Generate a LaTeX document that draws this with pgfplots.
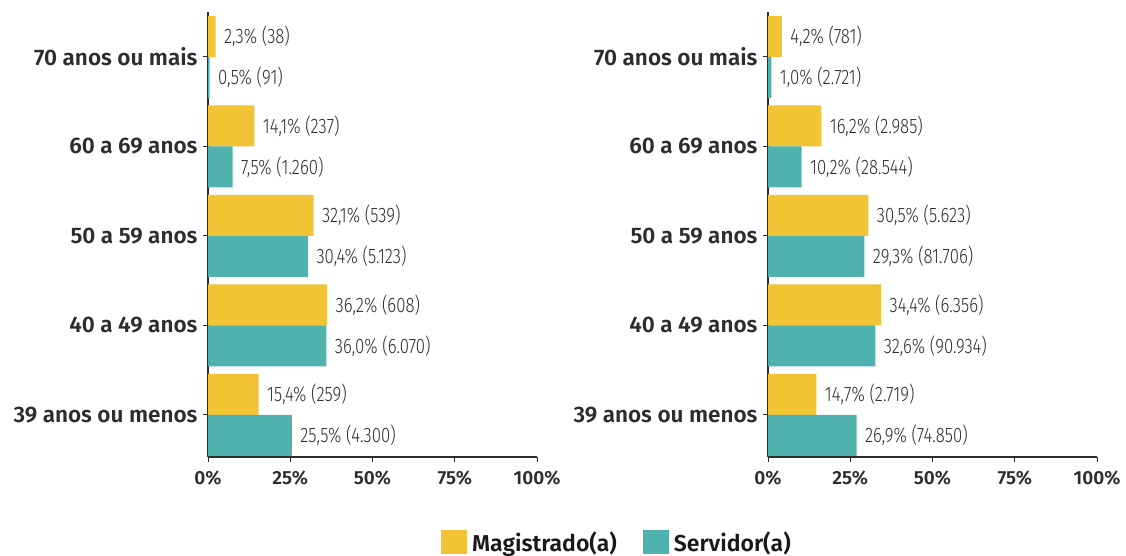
\documentclass[border=0pt]{standalone}
\usepackage{fontspec}
\setmainfont{Fira Sans}
\newfontfamily\medfont{Fira Sans SemiBold}
\newfontfamily\valfont[FakeStretch=0.8]{Fira Sans Light}
\usepackage{pgfplots}
\pgfplotsset{compat=1.18}
\definecolor{mag}{RGB}{242,195,53}
\definecolor{ser}{RGB}{80,178,175}
\definecolor{txt}{RGB}{45,45,45}
\pgfplotsset{panel/.style={
  xbar, scale only axis, width=329pt, height=445pt,
  xmin=0, xmax=100, ymin=-0.47, ymax=4.5,
  axis x line*=bottom, axis y line*=left,
  axis line style={draw=txt, line width=1.2pt, -},
  ytick={0,1,2,3,4},
  yticklabels={39 anos ou menos,40 a 49 anos,50 a 59 anos,60 a 69 anos,70 anos ou mais},
  xtick={0,25,50,75,100},
  xticklabels={0\%,25\%,50\%,75\%,100\%},
  tick align=outside, major tick length=5pt,
  tick style={draw=txt, line width=1pt},
  yticklabel style={font=\medfont\fontsize{22.5}{26}\selectfont, text=txt, xshift=-2pt},
  xticklabel style={font=\medfont\fontsize{19}{22}\selectfont, text=txt, yshift=-5pt},
  bar width=41pt,
  nodes near coords={\pgfplotspointmeta},
  point meta=explicit symbolic,
  nodes near coords style={font=\valfont\fontsize{21}{25}\selectfont, text=txt, anchor=west, xshift=5pt},
  clip=false,
  legend image code/.code={\fill[##1] (0pt,-12pt) rectangle (26pt,12pt);},
}}
\begin{document}
\begin{tikzpicture}
\useasboundingbox (0pt,0pt) rectangle (1126pt,555pt);
\begin{axis}[panel, at={(208pt,98pt)}, anchor=south west,
  legend columns=2,
  legend style={draw=none, fill=none, at={(1.243,-0.191)}, anchor=center,
    font=\medfont\fontsize{23}{27}\selectfont, text=black!90,
    /tikz/every odd column/.append style={column sep=3pt},
    /tikz/every even column/.append style={column sep=24pt}}]
\addplot[fill=mag, draw=none, bar shift=20.5pt] coordinates {
 (2.3,4) [2,3\% (38)]
 (14.1,3) [14,1\% (237)]
 (32.1,2) [32,1\% (539)]
 (36.2,1) [36,2\% (608)]
 (15.4,0) [15,4\% (259)]
};
\addlegendentry{Magistrado(a)}
\addplot[fill=ser, draw=none, bar shift=-20.5pt] coordinates {
 (0.5,4) [0,5\% (91)]
 (7.5,3) [7,5\% (1.260)]
 (30.4,2) [30,4\% (5.123)]
 (36.0,1) [36,0\% (6.070)]
 (25.5,0) [25,5\% (4.300)]
};
\addlegendentry{Servidor(a)}
\end{axis}
\begin{axis}[panel, at={(768pt,98pt)}, anchor=south west]
\addplot[fill=mag, draw=none, bar shift=20.5pt] coordinates {
 (4.2,4) [4,2\% (781)]
 (16.2,3) [16,2\% (2.985)]
 (30.5,2) [30,5\% (5.623)]
 (34.4,1) [34,4\% (6.356)]
 (14.7,0) [14,7\% (2.719)]
};
\addplot[fill=ser, draw=none, bar shift=-20.5pt] coordinates {
 (1.0,4) [1,0\% (2.721)]
 (10.2,3) [10,2\% (28.544)]
 (29.3,2) [29,3\% (81.706)]
 (32.6,1) [32,6\% (90.934)]
 (26.9,0) [26,9\% (74.850)]
};
\end{axis}
\end{tikzpicture}
\end{document}
